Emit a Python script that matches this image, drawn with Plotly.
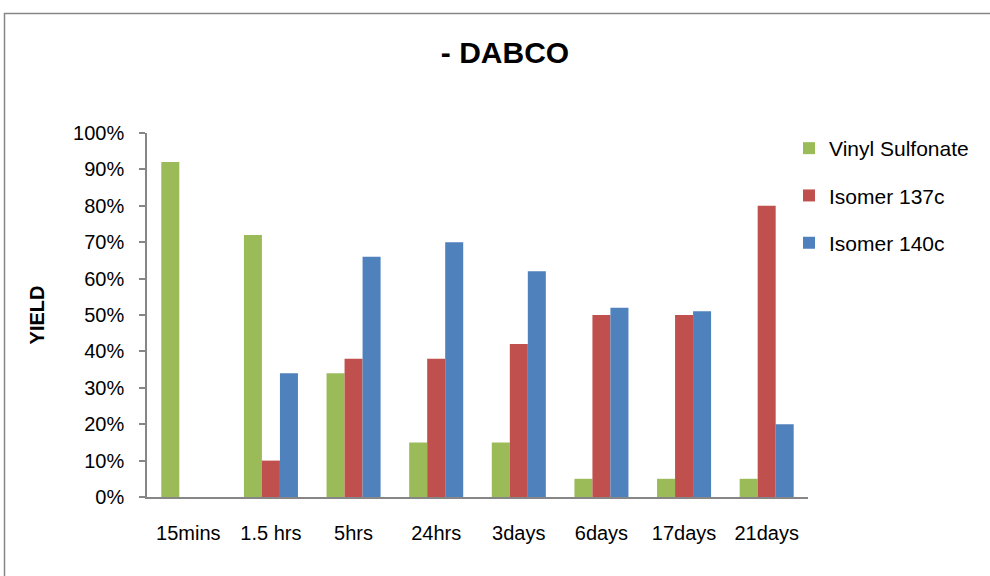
import plotly.graph_objects as go

categories = ["15mins", "1.5 hrs", "5hrs", "24hrs", "3days", "6days", "17days", "21days"]
vinyl_sulfonate = [0.92, 0.72, 0.34, 0.15, 0.15, 0.05, 0.05, 0.05]
isomer_137c = [0.0, 0.10, 0.38, 0.38, 0.42, 0.50, 0.50, 0.80]
isomer_140c = [0.0, 0.34, 0.66, 0.70, 0.62, 0.52, 0.51, 0.20]
y_ticks = [0, 0.1, 0.2, 0.3, 0.4, 0.5, 0.6, 0.7, 0.8, 0.9, 1.0]

series = [
    ("Vinyl Sulfonate", vinyl_sulfonate, "#9BBB59"),
    ("Isomer 137c", isomer_137c, "#C0504D"),
    ("Isomer 140c", isomer_140c, "#4F81BD"),
]

fig = go.Figure()
for name, vals, color in series:
    fig.add_trace(go.Bar(
        x=categories, y=vals, name=name, legendgroup=name,
        marker=dict(color=color, line=dict(width=0)),
    ))

W, H = 990, 576
L, R, T, B = 147, 182, 133, 79
pw, ph = W - L - R, H - T - B

fig.update_layout(
    width=W, height=H,
    margin=dict(l=L, r=R, t=T, b=B, autoexpand=False),
    paper_bgcolor="white", plot_bgcolor="white",
    barmode="group", bargap=0.346, bargroupgap=0,
    font=dict(family="Liberation Sans, Arial, sans-serif", size=20, color="#000000"),
    title=dict(text="<b>- DABCO</b>", x=505 / W, xanchor="center",
               y=1 - 52 / H, yanchor="middle",
               font=dict(size=30, color="#000000")),
    legend=dict(x=(789 - L) / pw, xanchor="left", y=(497 - 128) / ph, yanchor="top",
                tracegroupgap=17, font=dict(size=21), bgcolor="rgba(0,0,0,0)",
                itemwidth=30),
    showlegend=True,
    xaxis=dict(showline=True, linecolor="#868686", linewidth=1.5,
               ticks="outside", ticklen=17, tickcolor="rgba(0,0,0,0)",
               showgrid=False, tickfont=dict(size=20)),
    yaxis=dict(range=[0, 1.0], tickvals=y_ticks, tickformat=".0%",
               showline=True, linecolor="#868686", linewidth=1.5,
               ticks="outside", ticklen=6, tickcolor="#868686", tickwidth=1.5,
               ticklabelstandoff=11, showgrid=False, zeroline=False,
               tickfont=dict(size=20),
               title=dict(text="<b>YIELD</b>", font=dict(size=20), standoff=23)),
)

fig.add_shape(type="rect", xref="paper", yref="paper",
              x0=(4.5 - L) / pw, x1=(1010 - L) / pw,
              y0=-(600 - (H - B)) / ph, y1=(H - B - 13.5) / ph,
              line=dict(color="#868686", width=1.5), fillcolor="rgba(0,0,0,0)", layer="below")

fig.write_html("out.html", config={"displayModeBar": False},
               post_script="document.body.style.margin='0px';")
